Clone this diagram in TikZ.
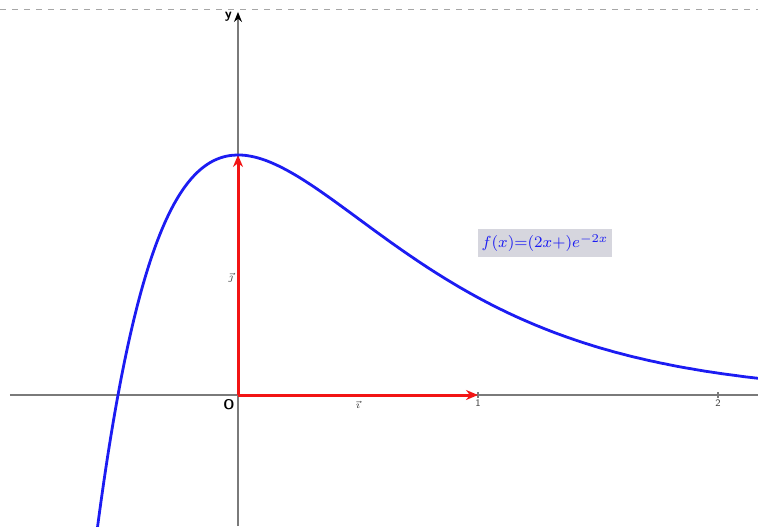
\documentclass[tikz,border=0pt]{standalone}
\usepackage{tikz}
\usetikzlibrary{arrows.meta, positioning}
\definecolor{curveblue}{HTML}{1C1CF2}
\definecolor{vecred}{HTML}{F21414}
\definecolor{axisgray}{HTML}{7A7A7A}
\definecolor{boxgray}{HTML}{D6D6DE}

\begin{document}
\begin{tikzpicture}[x=120pt, y=120pt,
    axis/.style={draw=axisgray, line width=0.75pt},
    unitvec/.style={draw=vecred, line width=1.5pt, -{Stealth[length=6pt, width=5pt]}},
    ticklabel/.style={font=\tiny\sffamily, text=black!75, inner sep=1pt},
]
    \useasboundingbox (-0.99167,-0.54583) rectangle (2.16667,1.64583);
    \clip (-0.99167,-0.54583) rectangle (2.16667,1.64583);

    % frame line at the top
    \draw[black!35, dashed, line width=0.5pt] (-0.99167,1.6083) -- (2.16667,1.6083);

    % axes
    \coordinate (O) at (0,0);
    \coordinate (xstart) at (-0.95,0);
    \coordinate (xend) at (2.16667,0);
    \coordinate (ybot) at (0,-0.54583);
    \coordinate (ytop) at (0,1.596);
    \draw[axis] (xstart) -- (xend);
    \draw[axis, -{Stealth[length=5pt, width=4pt, color=black]}] (ybot) -- (ytop);
    \draw[axis] (1,-0.012) -- (1,0.012);
    \draw[axis] (2,-0.012) -- (2,0.012);

    \node[ticklabel, font=\scriptsize\sffamily\bfseries, text=black] (olabel) at (-0.0375,-0.04) {O};
    \node[ticklabel, font=\scriptsize\sffamily\bfseries, text=black] (ylabel) at (-0.04,1.575) {y};
    \node[ticklabel] (one) at (1,-0.035) {1};
    \node[ticklabel] (two) at (2,-0.035) {2};

    % unit vectors
    \coordinate (I) at (1,0);
    \coordinate (J) at (0,1);
    \draw[unitvec] (O) -- (I);
    \draw[unitvec] (O) -- (J);
    \node[ticklabel] (ilabel) at (0.5,-0.04) {$\vec{\imath}$};
    \node[ticklabel] (jlabel) at (-0.03,0.49) {$\vec{\jmath}$};

    % the curve
    \draw[curveblue, line width=1.4pt] plot[domain=-0.6:2.17, samples=150, smooth]
        (\x, {(2*\x+1)*exp(-2*\x)});

    \node[fill=boxgray, text=curveblue, font=\fontsize{8}{10}\selectfont, inner sep=2pt, minimum height=14pt] (flabel) at (1.279,0.633)
        {$f(x){=}(2x{+})e^{-2x}$};
\end{tikzpicture}
\end{document}
